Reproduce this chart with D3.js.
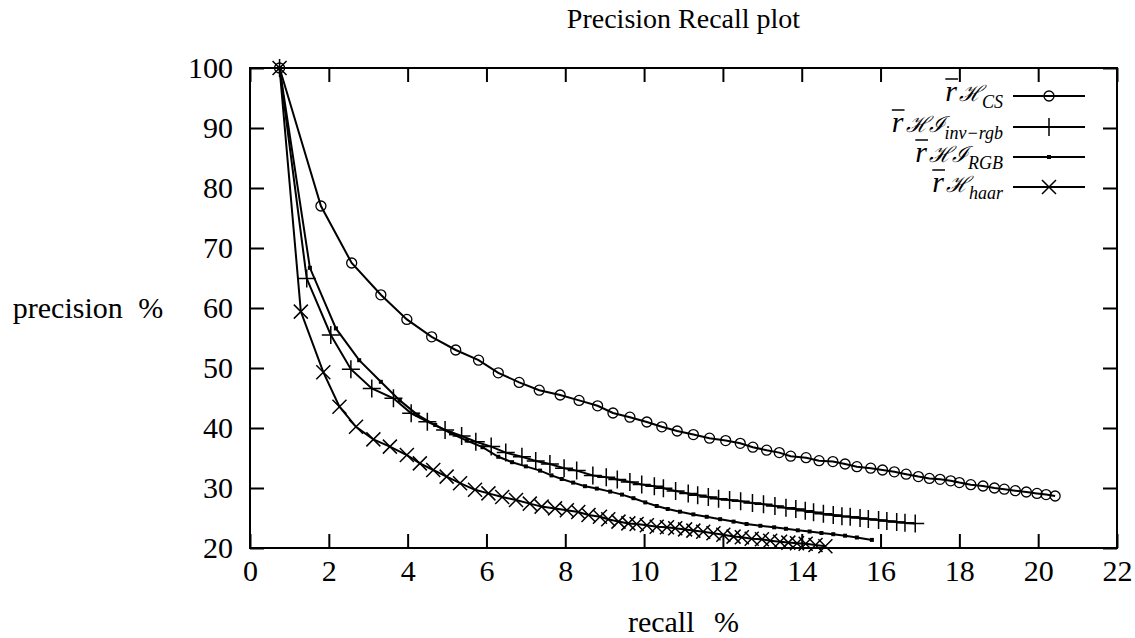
<!DOCTYPE html>
<html>
<head>
<meta charset="utf-8">
<script src="https://cdn.jsdelivr.net/npm/d3@7"></script>
<style>
  body { margin: 0; background: #fff; }
  text { font-family: "Liberation Serif", "Times New Roman", serif; fill: #000; }
</style>
</head>
<body>
<script>
// recall %, precision %
var csRecall = [0.75,1.8,2.58,3.32,3.98,4.61,5.22,5.8,6.3,6.83,7.34,7.87,8.35,8.82,9.21,9.64,10.07,10.45,10.84,11.25,11.66,12.07,12.44,12.76,13.11,13.43,13.72,14.11,14.44,14.79,15.1,15.4,15.75,16.05,16.35,16.65,16.96,17.24,17.51,17.78,18.0,18.29,18.6,18.89,19.14,19.42,19.7,19.97,20.2,20.43];
var csPrec   = [100,77,67.5,62.2,58.1,55.2,53,51.3,49.2,47.6,46.3,45.5,44.6,43.7,42.5,41.8,41,40.2,39.5,38.9,38.3,37.9,37.45,36.8,36.3,35.9,35.3,35.05,34.55,34.4,34,33.55,33.3,33,32.7,32.3,31.9,31.6,31.45,31.2,30.9,30.55,30.33,30,29.8,29.55,29.33,29.1,28.9,28.67];

var invRecall = [0.75,1.44,2.05,2.56,3.09,3.64,4.09,4.5,4.95,5.37,5.73,6.12,6.49,6.9,7.25,7.61,7.97,8.29,8.7,9.04,9.32,9.64,9.94,10.26,10.49,10.8,11.12,11.36,11.63,11.89,12.17,12.45,12.75,13.03,13.32,13.6,13.85,14.09,14.3,14.55,14.8,15.02,15.23,15.48,15.69,15.95,16.16,16.41,16.62,16.88];
var invPrec   = [100,64.9,55.5,49.8,46.6,44.95,42.45,41.05,39.67,38.67,37.7,36.9,35.9,35.2,34.5,34.0,33.3,32.9,32.1,31.8,31.4,31.0,30.6,30.3,29.95,29.5,29.1,28.8,28.5,28.2,28.0,27.8,27.5,27.3,27.0,26.7,26.5,26.2,25.95,25.7,25.5,25.3,25.2,25.0,24.85,24.67,24.5,24.35,24.2,24.1];

var rgbRecall = [0.75,1.52,2.18,2.77,3.32,3.8,4.25,4.7,5.1,5.5,5.9,6.3,6.65,7.0,7.36,7.65,7.91,8.2,8.5,8.8,9.14,9.44,9.73,10.03,10.32,10.6,10.91,11.25,11.59,11.93,12.27,12.6,12.95,13.3,13.6,13.9,14.2,14.5,14.8,15.1,15.4,15.78];
var rgbPrec   = [100,66.7,56.6,51.3,47.7,44.6,42.2,40.5,39.1,37.9,36.8,35.2,34.3,33.6,32.9,32.1,31.5,30.9,30.3,29.9,29.4,28.9,28.3,27.6,27.0,26.5,26.05,25.6,25.2,24.8,24.4,24.0,23.7,23.45,23.2,22.95,22.75,22.5,22.3,22.05,21.75,21.35];

var haarRecall = [0.75,1.29,1.86,2.27,2.69,3.13,3.55,3.98,4.31,4.65,4.99,5.33,5.71,6.05,6.4,6.75,7.1,7.4,7.74,8.04,8.33,8.59,8.88,9.09,9.35,9.6,9.81,10.07,10.32,10.58,10.79,11.04,11.25,11.5,11.76,12.01,12.27,12.48,12.73,12.99,13.2,13.45,13.66,13.88,14.1,14.35,14.6];
var haarPrec   = [100,59.4,49.3,43.55,40.2,38.1,36.9,35.5,34.1,33.0,31.9,30.8,29.7,29.1,28.5,28.0,27.4,26.9,26.6,26.3,26.0,25.5,25.2,24.8,24.4,24.1,24.0,23.8,23.55,23.45,23.3,23.1,22.9,22.7,22.45,22.2,21.9,21.8,21.55,21.45,21.2,21.05,20.9,20.8,20.7,20.5,20.3];

var xTicks = [0,2,4,6,8,10,12,14,16,18,20,22];
var yTicks = [20,30,40,50,60,70,80,90,100];

var series = [
  { name: "cs",   sub: "CS",           cal: "\u210B",       marker: "circle", r: csRecall,   p: csPrec },
  { name: "inv",  sub: "inv\u2212rgb", cal: "\u210B\u2110", marker: "plus",   r: invRecall,  p: invPrec },
  { name: "rgb",  sub: "RGB",          cal: "\u210B\u2110", marker: "dot",    r: rgbRecall,  p: rgbPrec },
  { name: "haar", sub: "haar",         cal: "\u210B",       marker: "cross",  r: haarRecall, p: haarPrec }
];

var W = 1135, H = 638;
var plot = { left: 250, right: 1117, top: 68, bottom: 548 };

var x = d3.scaleLinear().domain([0, 22]).range([plot.left, plot.right]);
var y = d3.scaleLinear().domain([20, 100]).range([plot.bottom, plot.top]);

var svg = d3.select("body").append("svg")
    .attr("width", W)
    .attr("height", H);

// axes, ticks pointing inward on all four sides
function styleAxis(g) {
  g.attr("font-family", null).attr("font-size", null);
  g.select(".domain").remove();
  g.selectAll(".tick line").attr("stroke", "#000").attr("stroke-width", 2);
  g.selectAll(".tick text").style("font-size", "30px").attr("fill", "#000");
}

svg.append("g")
    .attr("transform", "translate(0," + plot.bottom + ")")
    .call(d3.axisBottom(x).tickValues(xTicks).tickSizeInner(-14).tickSizeOuter(0).tickPadding(12))
    .call(styleAxis);

svg.append("g")
    .attr("transform", "translate(0," + plot.top + ")")
    .call(d3.axisTop(x).tickValues(xTicks).tickSizeInner(-14).tickSizeOuter(0).tickFormat(""))
    .call(styleAxis);

svg.append("g")
    .attr("transform", "translate(" + plot.left + ",0)")
    .call(d3.axisLeft(y).tickValues(yTicks).tickSizeInner(-14).tickSizeOuter(0).tickPadding(17))
    .call(styleAxis);

svg.append("g")
    .attr("transform", "translate(" + plot.right + ",0)")
    .call(d3.axisRight(y).tickValues(yTicks).tickSizeInner(-14).tickSizeOuter(0).tickFormat(""))
    .call(styleAxis);

svg.append("rect")
    .attr("x", plot.left).attr("y", plot.top)
    .attr("width", plot.right - plot.left).attr("height", plot.bottom - plot.top)
    .attr("fill", "none").attr("stroke", "#000").attr("stroke-width", 2);

// titles
svg.append("text")
    .attr("x", (plot.left + plot.right) / 2).attr("y", 28)
    .attr("text-anchor", "middle").style("font-size", "28px")
    .text("Precision Recall plot");

svg.append("text")
    .attr("x", 88).attr("y", 318)
    .attr("text-anchor", "middle").style("font-size", "30px").style("word-spacing", "8px")
    .text("precision %");

svg.append("text")
    .attr("x", (plot.left + plot.right) / 2).attr("y", 632)
    .attr("text-anchor", "middle").style("font-size", "30px").style("word-spacing", "12px")
    .text("recall %");

// markers
function drawMarker(g, type, cx, cy) {
  if (type === "circle") {
    g.append("circle").attr("cx", cx).attr("cy", cy).attr("r", 5)
      .attr("fill", "none").attr("stroke", "#000").attr("stroke-width", 1.3);
  } else if (type === "plus") {
    g.append("path").attr("d", "M" + (cx - 9) + "," + cy + "H" + (cx + 9) + "M" + cx + "," + (cy - 9) + "V" + (cy + 9))
      .attr("stroke", "#000").attr("stroke-width", 1.5).attr("fill", "none");
  } else if (type === "cross") {
    g.append("path").attr("d", "M" + (cx - 7) + "," + (cy - 7) + "L" + (cx + 7) + "," + (cy + 7) + "M" + (cx - 7) + "," + (cy + 7) + "L" + (cx + 7) + "," + (cy - 7))
      .attr("stroke", "#000").attr("stroke-width", 1.5).attr("fill", "none");
  } else if (type === "dot") {
    g.append("rect").attr("x", cx - 2).attr("y", cy - 2).attr("width", 4).attr("height", 4).attr("fill", "#000");
  }
}

var line = d3.line().x(function(d) { return x(d[0]); }).y(function(d) { return y(d[1]); });

series.forEach(function(s) {
  var pts = s.r.map(function(v, i) { return [v, s.p[i]]; });
  var g = svg.append("g").attr("class", "series " + s.name);
  g.append("path").datum(pts).attr("d", line)
    .attr("fill", "none").attr("stroke", "#000").attr("stroke-width", 2);
  pts.forEach(function(d) { drawMarker(g, s.marker, x(d[0]), y(d[1])); });
});

// legend
var legY = [96, 127, 157, 187];
series.forEach(function(s, i) {
  var ly = legY[i];
  var lg = svg.append("g").attr("class", "legend");
  lg.append("line").attr("x1", 1013).attr("x2", 1085).attr("y1", ly).attr("y2", ly)
    .attr("stroke", "#000").attr("stroke-width", 2);
  drawMarker(lg, s.marker, 1049, ly);

  var t = lg.append("text").attr("x", 1003).attr("y", ly + 5)
      .attr("text-anchor", "end").style("font-size", "30px");
  t.append("tspan").style("font-style", "italic").text("r");
  t.append("tspan").attr("dx", 2).style("font-family", "DejaVu Serif").style("font-size", "22px").style("font-style", "italic").text(s.cal);
  t.append("tspan").attr("dy", 7).style("font-style", "italic").style("font-size", "18px").text(s.sub);

  // bar over the r
  var a = t.node().getStartPositionOfChar(0), b = t.node().getEndPositionOfChar(0);
  lg.append("line").attr("x1", a.x).attr("x2", b.x + 1)
    .attr("y1", ly - 17).attr("y2", ly - 17)
    .attr("stroke", "#000").attr("stroke-width", 1.5);
});
</script>
</body>
</html>
